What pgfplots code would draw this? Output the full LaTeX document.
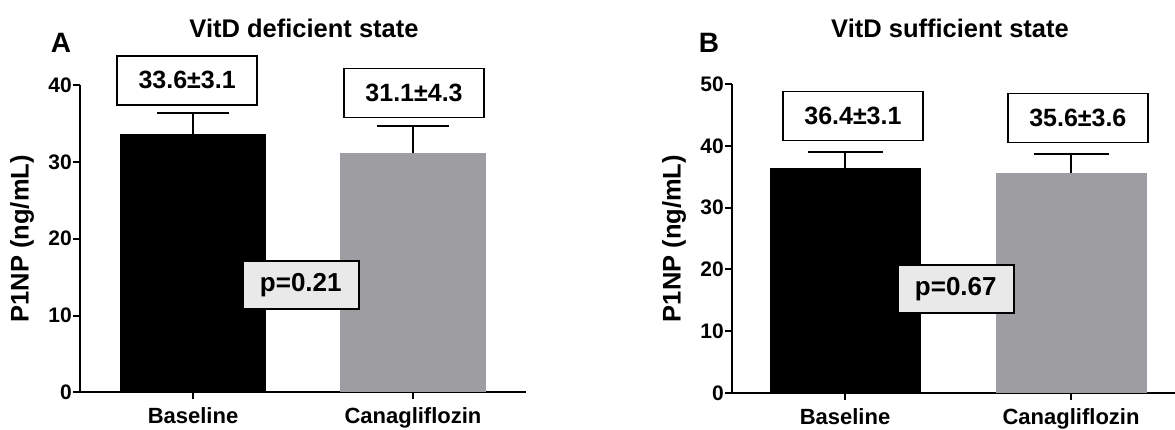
\documentclass[border=0pt]{standalone}
\usepackage{pgfplots}
\pgfplotsset{compat=1.18}
\usepackage{fontspec}
\setmainfont{Liberation Sans}
\definecolor{barg}{RGB}{158,157,162}
\definecolor{pfill}{RGB}{233,233,233}

\pgfplotsset{
 panel/.style={
  scale only axis, anchor=south west,
  ybar, bar width=0.668,
  ymin=0,
  xtick={0,1}, xticklabels={Baseline,Canagliflozin},
  axis x line*=bottom, axis y line*=left,
  axis line style={line width=2pt, -},
  tick style={line width=2pt, black},
  major tick length=7pt,
  tick align=outside,
  /pgf/number format/assume math mode=true,
  yticklabel style={font=\bfseries\fontsize{21}{21}\selectfont, inner sep=1pt},
  xticklabel style={font=\bfseries\fontsize{22}{22}\selectfont, yshift=-5pt},
  ylabel={P1NP (ng/mL)},
  every axis y label/.style={at={(axis description cs:0,0.5)}, xshift=-58pt, rotate=90, anchor=center, font=\bfseries\fontsize{25.5}{25.5}\selectfont},
  clip=false,
 },
 eb/.style={
  error bars/y dir=plus, error bars/y explicit,
  error bars/error bar style={line width=2pt, black, solid},
  error bars/error mark=-,
  error bars/error mark options={rotate=90, line width=2pt, mark size=#1, black, solid},
 },
}
\tikzset{
 valbox/.style={draw, line width=1.5pt, fill=white, minimum width=140pt, minimum height=49pt, inner sep=0pt, font=\bfseries\fontsize{25}{25}\selectfont},
 pbox/.style={draw, line width=1.5pt, fill=pfill, minimum width=116pt, minimum height=48pt, inner sep=0pt, font=\bfseries\fontsize{26}{26}\selectfont},
}

\begin{document}
\begin{tikzpicture}
\path[use as bounding box] (0,0) rectangle (1175pt,430pt);

% Panel A
\begin{axis}[panel, at={(80pt,37.5pt)}, width=446pt, height=307.5pt,
  xmin=-0.514, xmax=1.514, ymax=40, ytick={0,10,20,30,40}]
\addplot[fill=black, draw=none, bar shift=0pt, eb=36pt]
  coordinates {(0,33.6) +- (0,2.8)};
\addplot[fill=barg, draw=none, bar shift=0pt, eb=36pt]
  coordinates {(1,31.1) +- (0,3.6)};
\node[valbox] at (axis cs:-0.027,40.6) {33.6±3.1};
\node[valbox] at (axis cs:1.005,38.96) {31.1±4.3};
\node[pbox] at (axis cs:0.49,14.0) {p=0.21};
\end{axis}

% Panel B
\begin{axis}[panel, at={(732pt,37pt)}, width=443pt, height=309pt,
  xmin=-0.5, xmax=1.46, ymax=50, ytick={0,10,20,30,40,50}]
\addplot[fill=black, draw=none, bar shift=0pt, eb=37.5pt]
  coordinates {(0,36.4) +- (0,2.6)};
\addplot[fill=barg, draw=none, bar shift=0pt, eb=37.5pt]
  coordinates {(1,35.6) +- (0,3.1)};
\node[valbox] at (axis cs:0.035,44.8) {36.4±3.1};
\node[valbox] at (axis cs:1.03,44.5) {35.6±3.6};
\node[pbox] at (axis cs:0.49,16.8) {p=0.67};
\end{axis}

\node[anchor=base, font=\bfseries\fontsize{25.5}{25.5}\selectfont] at (304pt,392.5pt) {VitD deficient state};
\node[anchor=base, font=\bfseries\fontsize{25.5}{25.5}\selectfont] at (950pt,392.5pt) {VitD sufficient state};
\node[anchor=base, font=\bfseries\fontsize{28}{28}\selectfont] at (61pt,377pt) {A};
\node[anchor=base, font=\bfseries\fontsize{28}{28}\selectfont] at (709pt,377pt) {B};
\end{tikzpicture}
\end{document}
